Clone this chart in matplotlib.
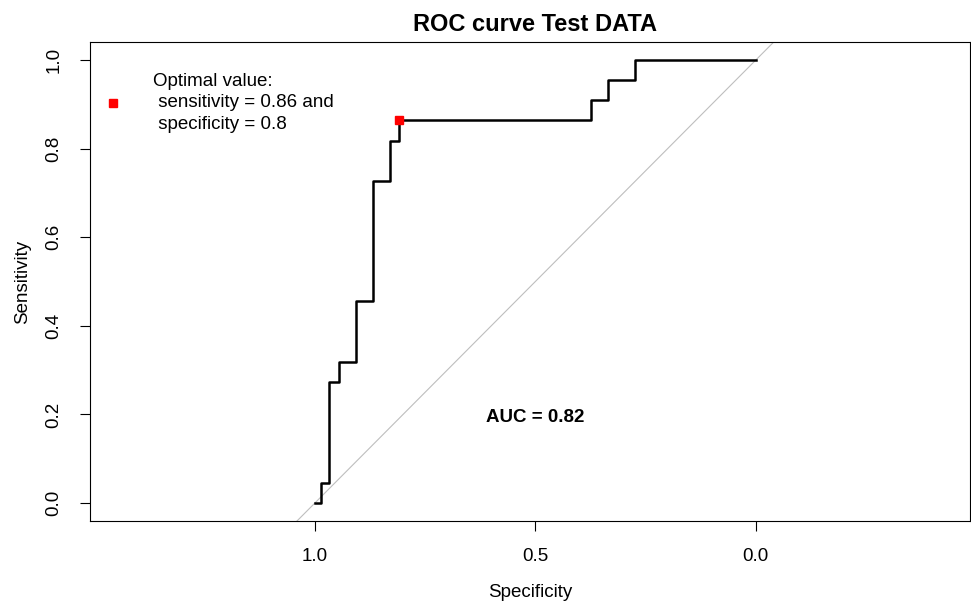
import matplotlib.pyplot as plt

plt.rcParams['font.family'] = ['Liberation Sans', 'DejaVu Sans']

# ROC curve points (specificity, sensitivity)
specificity = [1.0, 0.987, 0.987, 0.968, 0.968, 0.946, 0.946, 0.907, 0.907, 0.868,
               0.868, 0.83, 0.83, 0.81, 0.81, 0.374, 0.374, 0.336, 0.336, 0.274,
               0.274, 0.0]
sensitivity = [0.0, 0.0, 0.045, 0.045, 0.273, 0.273, 0.318, 0.318, 0.455, 0.455,
               0.727, 0.727, 0.818, 0.818, 0.864, 0.864, 0.909, 0.909, 0.955, 0.955,
               1.0, 1.0]
best_spec = 0.81
best_sens = 0.864
auc = 0.82

fig = plt.figure(figsize=(9.71, 6.06), dpi=100)
ax = fig.add_axes([0.0927, 0.140, 0.906, 0.791])

# chance diagonal
ax.axline((1, 0), (0, 1), color='#bebebe', lw=0.8, zorder=1)
ax.plot(specificity, sensitivity, color='black', lw=1.8, zorder=2)
ax.plot(best_spec, best_sens, 's', color='red', ms=6, zorder=3)

ax.text(0.5, 0.192, f'AUC = {auc:.2f}', ha='center', va='center',
        fontsize=13.5, fontweight='bold')

# legend drawn like R's legend()
ax.plot(1.458, 0.903, 's', color='red', ms=5.5, clip_on=False)
ax.text(1.367, 0.903, 'Optimal value:\n sensitivity = 0.86 and\n specificity = 0.8',
        ha='left', va='center', fontsize=13.5, linespacing=1.38)

ax.set_xlim(1.51, -0.485)
ax.set_ylim(-0.041, 1.041)
ax.set_xticks([1.0, 0.5, 0.0])
ax.set_xticklabels(['1.0', '0.5', '0.0'])
ax.set_yticks([0, 0.2, 0.4, 0.6, 0.8, 1.0])
ax.set_yticklabels(['0.0', '0.2', '0.4', '0.6', '0.8', '1.0'], rotation=90, va='center')
ax.tick_params(length=7, width=0.8, labelsize=13.5)
ax.tick_params(axis='x', pad=12)
ax.tick_params(axis='y', pad=13)

ax.set_xlabel('Specificity', fontsize=13.5, labelpad=14)
ax.set_ylabel('Sensitivity', fontsize=13.5, labelpad=10)
ax.set_title('ROC curve Test DATA', fontsize=17, fontweight='bold', pad=8, x=0.506)

for s in ax.spines.values():
    s.set_linewidth(0.8)

fig.savefig('out.png', dpi=100)
